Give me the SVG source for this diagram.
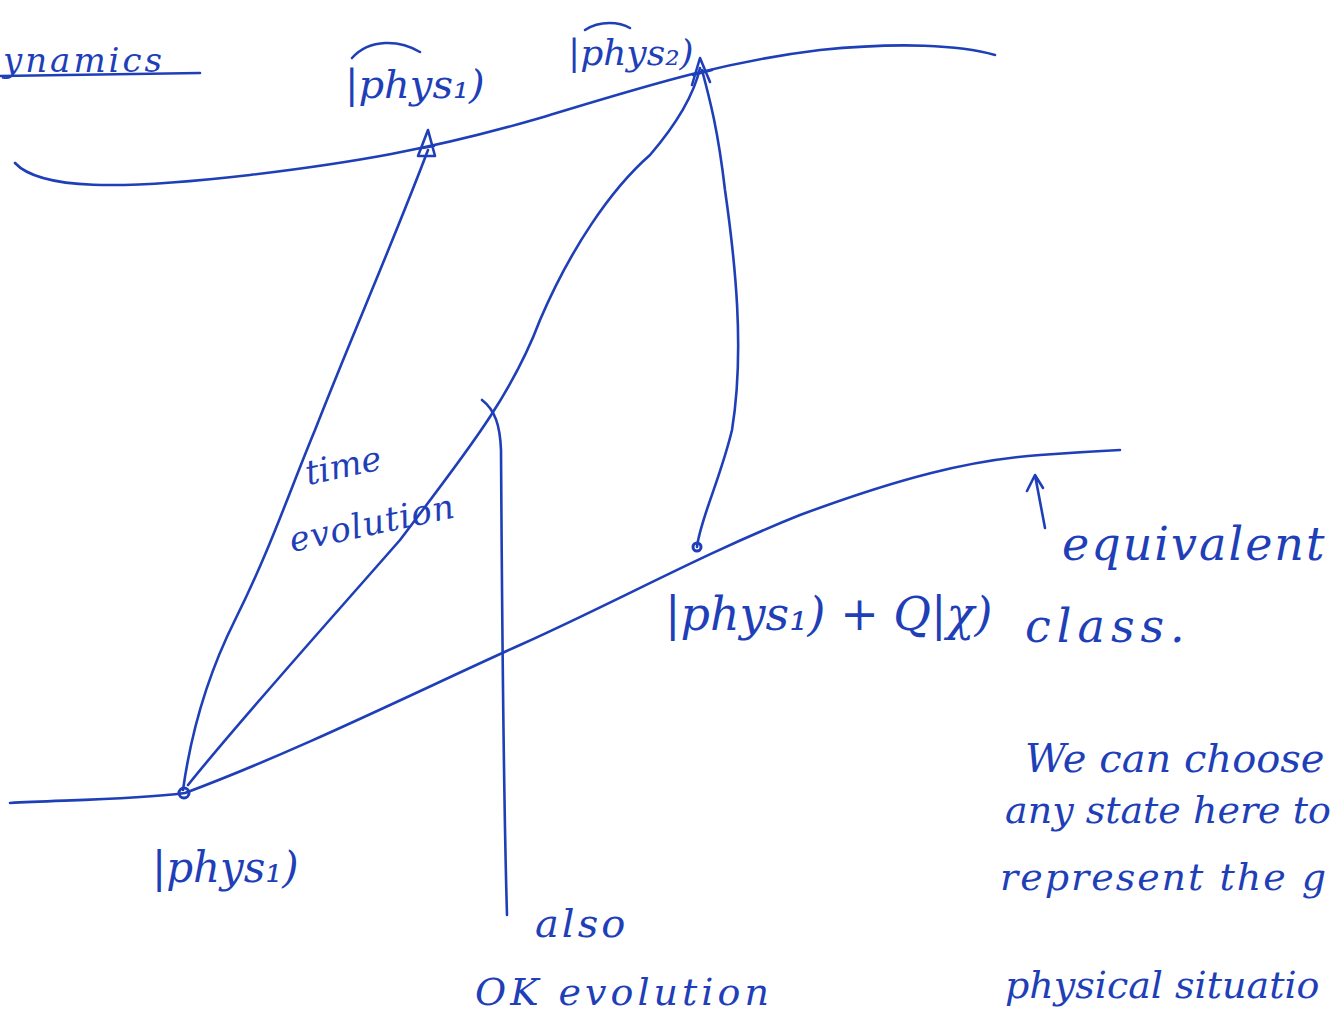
<svg xmlns="http://www.w3.org/2000/svg" width="1338" height="1014" viewBox="0 0 1338 1014">
<style>
.s{fill:none;stroke:#1f3fb8;stroke-width:2.6;stroke-linecap:round;stroke-linejoin:round}
.t{fill:#1f3fb8;font-family:"DejaVu Serif","Liberation Serif",serif;font-style:italic}
</style>
<rect width="1338" height="1014" fill="#fff"/>
<g id="title"><text class="t" x="3" y="72" font-size="34" letter-spacing="3">ynamics</text><path class="s" d="M0,76 L200,73"/></g>
<g id="top-curve"><path class="s" d="M15,163 C40,190 120,190 250,175 C350,163 430,150 540,118 C640,88 720,62 820,50 C900,42 960,45 995,55"/></g>
<g id="bottom-curve"><path class="s" d="M10,803 C60,800 130,800 185,793 C300,750 420,690 520,645 C620,600 700,555 800,515 C900,478 970,460 1040,455 C1080,452 1100,451 1120,450"/></g>
<g id="connectors">
<path class="s" d="M183,790 C190,740 205,680 235,620 C270,550 290,490 315,430 C350,340 390,250 428,150"/>
<path class="s" d="M188,785 C240,720 330,620 400,540 C460,460 510,400 540,320 C570,250 610,190 650,155 C680,120 695,90 700,68"/>
<path class="s" d="M697,547 C700,520 720,480 732,430 C745,350 735,260 725,190 C718,130 710,100 702,70"/>
<path class="s" d="M482,400 C495,410 500,425 501,450 C502,600 503,780 507,915"/>
<path class="s" d="M1045,528 L1035,475 M1027,491 L1035,475 L1043,488"/>
<path class="s" d="M418,156 L428,130 L435,156 Z M422,148 L434,146"/>
<path class="s" d="M692,85 L700,58 L710,82 M693,75 L712,70"/>
</g>
<g id="point-phys1"><circle cx="184" cy="793" r="5" fill="none" stroke="#1f3fb8" stroke-width="3"/></g>
<g id="point-gauge"><circle cx="697" cy="547" r="4" fill="none" stroke="#1f3fb8" stroke-width="3"/></g>
<g id="label-phys1-top"><text class="t" x="345" y="98" font-size="40">|phys₁)</text><path class="s" d="M352,58 C370,38 400,40 420,52"/></g>
<g id="label-phys2-top"><text class="t" x="568" y="65" font-size="36">|phys₂)</text><path class="s" d="M585,30 C600,20 620,22 630,28"/></g>
<g id="label-time"><text class="t" x="308" y="485" font-size="34" transform="rotate(-12 308 485)">time</text><text class="t" x="292" y="552" font-size="34" letter-spacing="1" transform="rotate(-12 292 552)">evolution</text></g>
<g id="label-gauge"><text class="t" x="665" y="630" font-size="46">|phys₁) + Q|χ)</text></g>
<g id="label-equiv"><text class="t" x="1062" y="560" font-size="46" letter-spacing="2">equivalent</text><text class="t" x="1025" y="642" font-size="46" letter-spacing="6">class.</text></g>
<g id="label-note"><text class="t" x="1025" y="772" font-size="40">We can choose</text><text class="t" x="1005" y="823" font-size="38">any state here to</text><text class="t" x="1000" y="890" font-size="38" letter-spacing="2">represent the g</text><text class="t" x="1005" y="998" font-size="38">physical situatio</text></g>
<g id="label-phys1-bottom"><text class="t" x="152" y="882" font-size="42">|phys₁)</text></g>
<g id="label-also"><text class="t" x="535" y="937" font-size="40" letter-spacing="3">also</text><text class="t" x="475" y="1005" font-size="38" letter-spacing="4">OK evolution</text></g>
</svg>
